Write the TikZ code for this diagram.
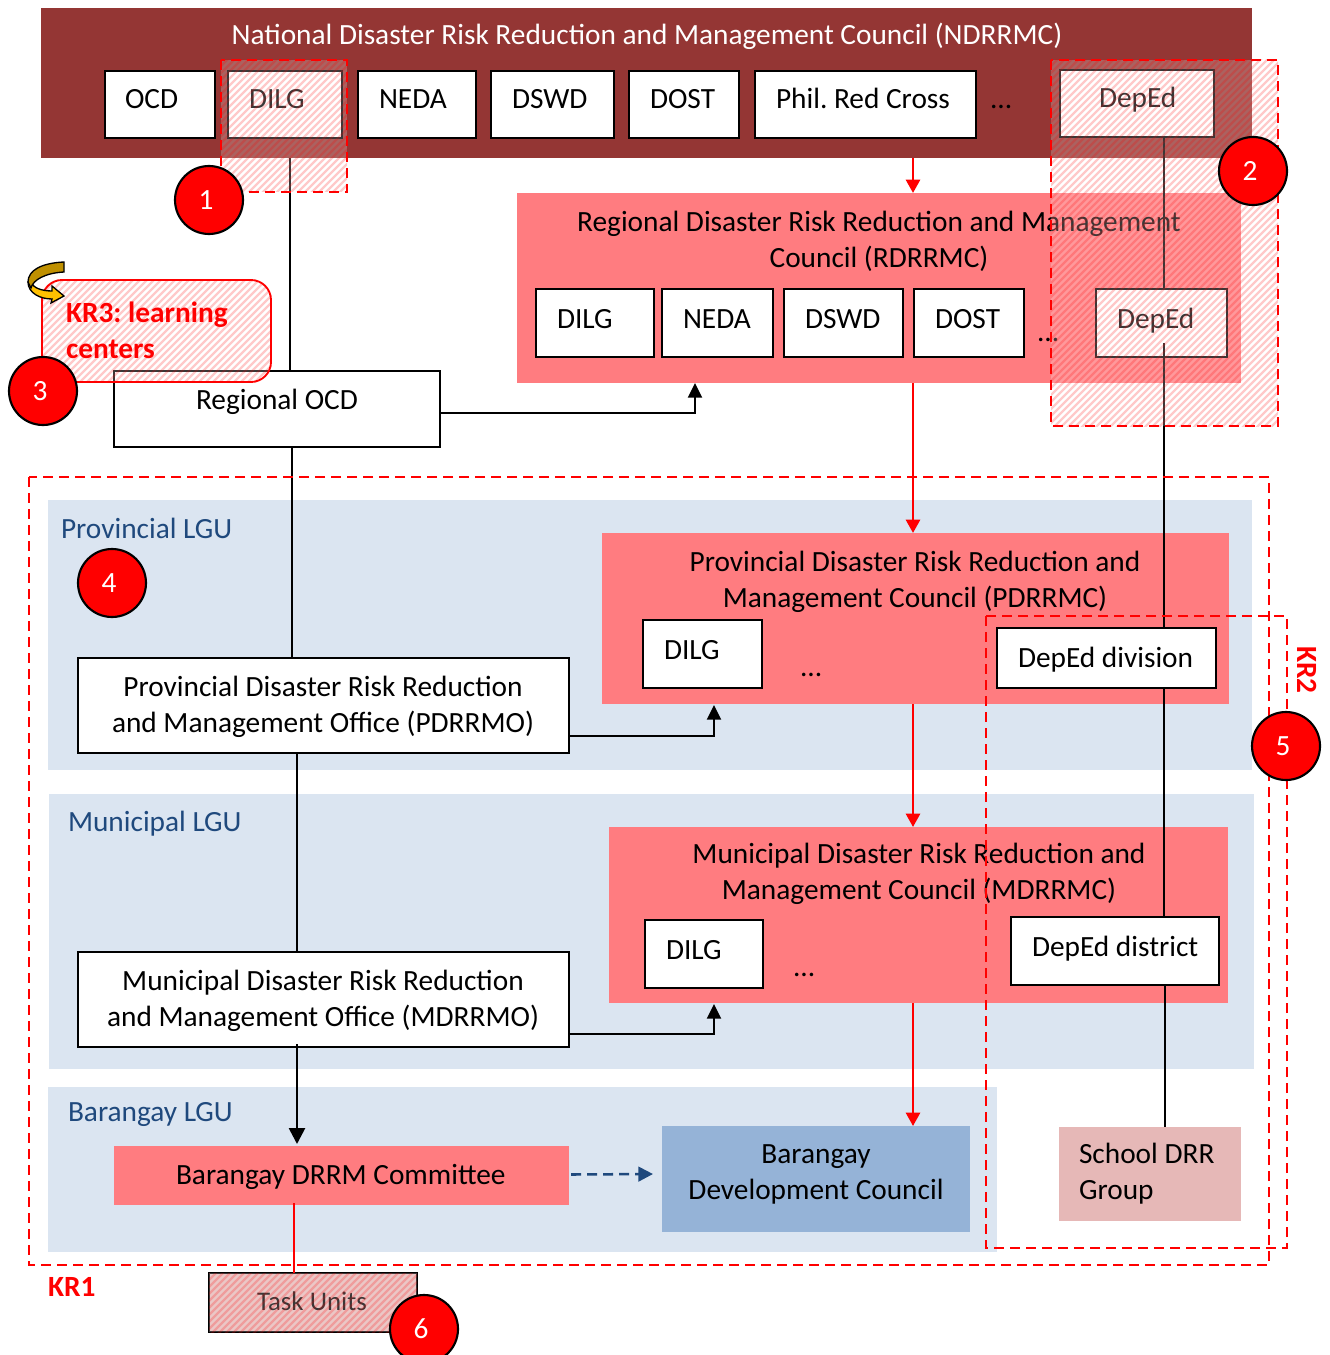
\documentclass[tikz,border=0pt]{standalone}
\usepackage{fontspec}
\setmainfont{Carlito}
\frenchspacing
\usetikzlibrary{arrows.meta,calc}
\definecolor{brownred}{HTML}{943634}
\definecolor{council}{HTML}{FF7C80}
\definecolor{lgu}{HTML}{DBE5F1}
\definecolor{lgutext}{HTML}{1F497D}
\definecolor{devblue}{HTML}{95B3D7}
\definecolor{schoolpink}{HTML}{E6B8B7}
\definecolor{goldlight}{HTML}{FFC000}
\definecolor{golddark}{HTML}{BF9000}
\tikzset{
  x=0.75pt,y=-0.75pt,
  plain/.style={inner sep=0pt,outer sep=0pt},
  wbox/.style={plain,draw=black,fill=white,line width=1.7pt},
  band/.style={plain,fill=lgu},
  cncl/.style={plain,fill=council},
  txt/.style={inner sep=0pt,outer sep=0pt,font=\fontsize{22}{27}\selectfont,anchor=base west,text=black},
  ctxt/.style={inner sep=0pt,outer sep=0pt,font=\fontsize{22}{27}\selectfont,align=center,text=black},
  ltxt/.style={inner sep=0pt,outer sep=0pt,font=\fontsize{22}{27}\selectfont,align=left,text=black},
  lgutxt/.style={txt,text=lgutext},
  krtxt/.style={inner sep=0pt,outer sep=0pt,font=\fontsize{22}{27}\selectfont\bfseries,text=red},
  link/.style={draw=black,line width=1.6pt},
  arr/.style={link,-{Triangle[length=11pt,width=10.5pt]}},
  barr/.style={draw=black,line width=2pt,-{Triangle[length=12pt,width=12pt]}},
  rarr/.style={draw=red,line width=2pt,-{Triangle[length=10pt,width=10.5pt]}},
  num/.style={circle,draw=black,fill=red,line width=1.6pt,minimum size=51pt,inner sep=0pt,outer sep=0pt,text=white,font=\fontsize{22}{24}\selectfont},
  kr/.style={draw=red,line width=2.1pt,dash pattern=on 7.5pt off 4.5pt},
}
\newcommand{\bx}[6]{\node[#1,anchor=north west,minimum width={(#5-#3)*0.75pt},minimum height={(#6-#4)*0.75pt}] (#2) at (#3,#4) {};}
\newcommand{\nm}[1]{\makebox[0pt]{\hspace{-4.5pt}\raisebox{-4.2pt}{#1}}}
% #1 path, #2 first diagonal, #3 last diagonal (x+y in px)
\newcommand{\hatchover}[3]{%
  \fill[white,fill opacity=.22] #1;
  \begin{scope}
  \clip #1;
  \foreach \d in {#2,\the\numexpr#2+7\relax,...,#3}
    \draw[red,line width=1.8pt,draw opacity=.21] (\d+8,-8) -- ++(-1500,1500);
  \end{scope}}
\begin{document}
\begin{tikzpicture}
\clip (0,0) rectangle (1329,1355);
\fill[white] (0,0) rectangle (1329,1355);
% bands
\bx{band}{provband}{48}{500}{1252}{770}
\bx{band}{munband}{49}{794}{1254}{1069}
\bx{band}{barband}{48}{1087}{997}{1252}
% national
\bx{plain,fill=brownred}{nat}{41}{8}{1252}{158}
\node[ctxt,text=white] (natT) at (647,36) {National Disaster Risk Reduction and Management Council (NDRRMC)};
\bx{wbox}{nOCD}{105}{71}{215}{138}
\bx{wbox}{nDILG}{228}{71}{342}{138}
\bx{wbox}{nNEDA}{358}{71}{476}{138}
\bx{wbox}{nDSWD}{491}{71}{614}{138}
\bx{wbox}{nDOST}{629}{71}{739}{138}
\bx{wbox}{nPRC}{755}{71}{976}{138}
\bx{wbox}{nDepEd}{1060}{70}{1214}{137}
\node[txt] (t1) at (125,109) {OCD};
\node[txt] (t2) at (249,109) {DILG};
\node[txt] (t3) at (379,109) {NEDA};
\node[txt] (t4) at (512,109) {DSWD};
\node[txt] (t5) at (650,109) {DOST};
\node[txt] (t6) at (776,109) {Phil. Red Cross};
\node[txt] (t7) at (990,109) {...};
\node[txt] (t8) at (1099,108) {DepEd};
% regional
\bx{cncl}{reg}{517}{193}{1241}{383}
\node[ctxt] (regT) at (879,241) {Regional Disaster Risk Reduction and Management\\Council (RDRRMC)};
\bx{wbox}{rDILG}{536}{289}{654}{357}
\bx{wbox}{rNEDA}{662}{289}{773}{357}
\bx{wbox}{rDSWD}{784}{289}{903}{357}
\bx{wbox}{rDOST}{914}{289}{1024}{357}
\bx{wbox}{rDepEd}{1096}{289}{1227}{357}
\node[txt] (r1) at (557,328) {DILG};
\node[txt] (r2) at (683,328) {NEDA};
\node[txt] (r3) at (805,328) {DSWD};
\node[txt] (r4) at (935,328) {DOST};
\node[txt] (r5) at (1037,341) {...};
\node[txt] (r6) at (1117,328) {DepEd};
\bx{wbox}{rOCD}{114}{371}{440}{447}
\node[txt] (rOCDT) at (196,409) {Regional OCD};
% provincial
\node[lgutxt] (pL) at (61,538) {Provincial LGU};
\bx{cncl}{prov}{602}{533}{1229}{704}
\node[ctxt] (provT) at (915,582) {Provincial Disaster Risk Reduction and\\Management Council (PDRRMC)};
\bx{wbox}{pDILG}{643}{620}{762}{688}
\bx{wbox}{pDepEd}{997}{628}{1216}{688}
\bx{wbox}{pdrrmo}{78}{658}{569}{753}
\node[txt] (p1) at (664,659) {DILG};
\node[txt] (p2) at (800,676) {...};
\node[txt] (p3) at (1018,667) {DepEd division};
\node[ctxt] (pdrrmoT) at (323,707) {Provincial Disaster Risk Reduction\\and Management Office (PDRRMO)};
% municipal
\node[lgutxt] (mL) at (68,831) {Municipal LGU};
\bx{cncl}{mun}{609}{827}{1228}{1003}
\node[ctxt] (munT) at (919,874) {Municipal Disaster Risk Reduction and\\Management Council (MDRRMC)};
\bx{wbox}{mDILG}{645}{920}{763}{988}
\bx{wbox}{mDepEd}{1011}{917}{1219}{985}
\bx{wbox}{mdrrmo}{78}{952}{569}{1047}
\node[txt] (m1) at (666,959) {DILG};
\node[txt] (m2) at (793,976) {...};
\node[txt] (m3) at (1032,956) {DepEd district};
\node[ctxt] (mdrrmoT) at (323,1001) {Municipal Disaster Risk Reduction\\and Management Office (MDRRMO)};
% barangay
\node[lgutxt] (bL) at (68,1121) {Barangay LGU};
\bx{cncl}{bdrrm}{114}{1146}{569}{1205}
\node[txt] (bdrrmT) at (176,1184) {Barangay DRRM Committee};
\bx{plain,fill=devblue}{bdc}{662}{1126}{970}{1232}
\node[ctxt] (bdcT) at (816,1174) {Barangay\\Development Council};
\bx{plain,fill=schoolpink}{school}{1059}{1127}{1241}{1221}
\node[ltxt,anchor=west] (schoolT) at (1079,1174) {School DRR\\Group};
\bx{plain,draw=black,line width=1.5pt,fill=schoolpink}{task}{209}{1273}{417}{1332}
\node[txt,font=\fontsize{20.2}{24}\selectfont] (taskT) at (257,1310) {Task Units};
% connectors
\draw[link] (nat.south -| 290,0) -- (rOCD.north -| 290,0);
\draw[link] (rOCD.south -| 292,0) -- (pdrrmo.north -| 292,0);
\draw[link] (pdrrmo.south -| 297,0) -- (mdrrmo.north -| 297,0);
\draw[barr] ($(mdrrmo.south -| 297,0)+(0,-3)$) -- ($(bdrrm.north -| 297,0)+(0,-2)$);
\draw[draw=red,line width=1.4pt] ($(bdrrm.south -| 294,0)+(0,-2)$) -- (task.north -| 294,0);
\draw[link] (nDepEd.south -| 1164,0) -- (rDepEd.north -| 1164,0);
\draw[link] ($(rDepEd.south -| 1164,0)+(0,-14)$) -- (pDepEd.north -| 1164,0);
\draw[link] (pDepEd.south -| 1164,0) -- (mDepEd.north -| 1164,0);
\draw[link] (mDepEd.south -| 1165,0) -- (school.north -| 1165,0);
\draw[arr] (rOCD.east |- 0,413) -| ($(reg.south -| 695,0)+(0,0)$);
\draw[arr] (pdrrmo.east |- 0,736) -| ($(prov.south -| 714,0)+(0,1)$);
\draw[arr] (mdrrmo.east |- 0,1034) -| ($(mun.south -| 714,0)+(0,1)$);
\draw[rarr] (nat.south -| 913,0) -- (reg.north -| 913,0);
\draw[rarr] (reg.south -| 913,0) -- (prov.north -| 913,0);
\draw[rarr] (prov.south -| 913,0) -- (mun.north -| 913,0);
\draw[rarr] (mun.south -| 913,0) -- (bdc.north -| 913,0);
\draw[draw=lgutext,line width=1.9pt,dash pattern=on 7.5pt off 4.5pt,-{Triangle[length=11pt,width=11pt]}] ($(bdrrm.east)+(2,-1)$) -- ($(bdc.west)+(-9,-5)$);
% dashed frames
\draw[kr] (29,477) rectangle (1269,1265);
\draw[kr] (986,616) rectangle (1287,1248);
% hatched overlays
\hatchover{(221,60) rectangle (347,192)}{280}{540}
\draw[kr] (221,60) rectangle (347,192);
\hatchover{(1051,60) rectangle (1278,426)}{1110}{1704}
\draw[kr] (1051,60) rectangle (1278,426);
\hatchover{[rounded corners=15pt] (42,280) rectangle (271,382)}{322}{654}
\draw[red,line width=1.4pt,rounded corners=15pt] (42,280) rectangle (271,382);
\hatchover{(209,1273) rectangle (417,1332)}{1482}{1750}
% gold arrow
\draw[black,line width=1pt,fill=goldlight] (28,282) .. controls (28,293) and (40,299) .. (52,299) -- (51,303) -- (64,296) -- (52,286) -- (52,291) .. controls (42,291) and (33,288) .. (31,282) -- cycle;
\draw[black,line width=1pt,fill=golddark] (64,262) .. controls (42,263) and (28,270) .. (28,282) -- (31,288) .. controls (33,280) and (45,273) .. (64,272) -- cycle;
% labels
\node[krtxt,align=left,anchor=north west] (kr3) at (66,302) {KR3: learning\\centers};
\node[krtxt,anchor=base west] (kr1) at (48,1296) {KR1};
\node[krtxt,rotate=-90] (kr2) at (1307,670) {KR2};
% numbers
\node[num] (c1) at (209,200) {\nm{1}};
\node[num] (c2) at (1253,171) {\nm{2}};
\node[num] (c3) at (43,391) {\nm{3}};
\node[num] (c4) at (112,583) {\nm{4}};
\node[num] (c5) at (1286,746) {\nm{5}};
\node[num] (c6) at (424,1329) {\nm{6}};
\end{tikzpicture}
\end{document}
